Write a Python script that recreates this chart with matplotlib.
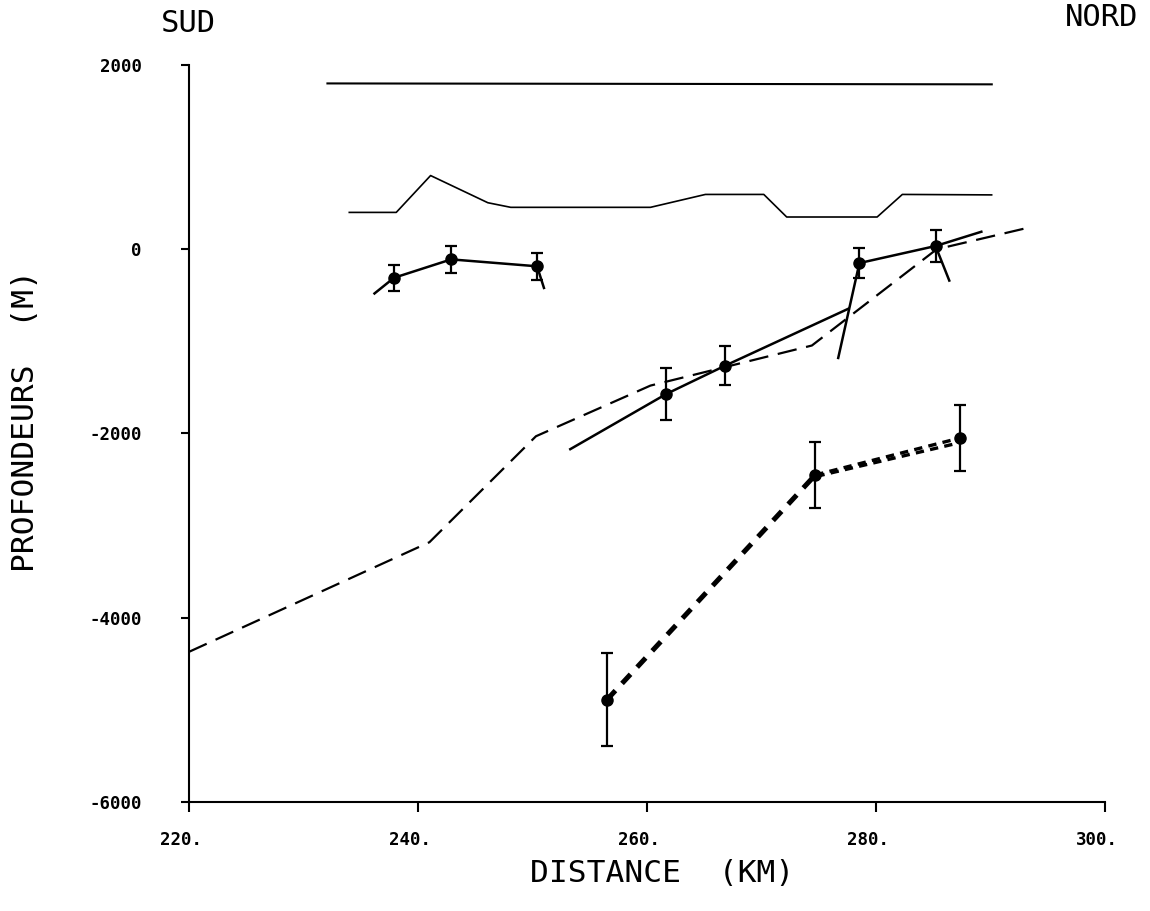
import matplotlib
matplotlib.use("Agg")
import matplotlib.pyplot as plt
from matplotlib.transforms import ScaledTranslation

# ---------------- data ----------------
# top reference line
top_x = [232.0, 290.2]
top_y = [1800, 1790]

# topography profile
topo_x = [234.0, 238.1, 241.1, 246.1, 248.1, 260.3, 265.1, 270.2, 272.2, 280.1, 282.3, 290.1]
topo_y = [400, 400, 800, 505, 455, 455, 595, 595, 350, 350, 595, 590]

# long-dashed interface
dash_x = [220.0, 241.0, 250.3, 260.3, 274.4, 285.3, 293.5]
dash_y = [-4370, -3180, -2030, -1480, -1045, 0, 240]

# solid segments
left_x = [236.2, 237.9, 242.9, 250.4, 251.0]
left_y = [-480, -310, -110, -185, -420]
mid1_x = [253.3, 261.7, 266.8, 277.6]
mid1_y = [-2170, -1570, -1265, -645]
mid2_x = [276.7, 278.55, 285.2, 289.2]
mid2_y = [-1180, -150, 35, 190]
tail_x = [285.2, 286.4]
tail_y = [35, -340]

# points with error bars (solid group)
pts_x = [237.9, 242.9, 250.4, 261.7, 266.8, 278.55, 285.2]
pts_y = [-310, -110, -185, -1570, -1265, -150, 35]
pts_err = [140, 145, 145, 280, 210, 165, 175]

# deep (bold dashed) group
deep_x = [256.5, 274.7, 287.3]
deep_y = [-4890, -2450, -2050]
deep_err = [505, 355, 355]
deep2_x = [274.8, 287.3]
deep2_y = [-2465, -2100]

xticks = [220, 240, 260, 280, 300]
xticklabels = ["220.", "240.", "260.", "280.", "300."]
yticks = [2000, 0, -2000, -4000, -6000]
yticklabels = ["2000", "0", "-2000", "-4000", "-6000"]

# ---------------- figure ----------------
plt.rcParams["lines.scale_dashes"] = False
W, H = 1150, 911
fig = plt.figure(figsize=(W / 100, H / 100), dpi=100)
L, R, T, B = 189, 1105, 65, 802
ax = fig.add_axes([L / W, 1 - B / H, (R - L) / W, (B - T) / H])
ax.set_xlim(220, 300)
ax.set_ylim(-6000, 2000)

k = "black"
ax.plot(top_x, top_y, color=k, lw=1.5, solid_capstyle="butt")
ax.plot(topo_x, topo_y, color=k, lw=1.2)
ax.plot(dash_x, dash_y, color=k, lw=1.6, dashes=(14, 7))

for xs, ys in [(left_x, left_y), (mid1_x, mid1_y), (mid2_x, mid2_y), (tail_x, tail_y)]:
    ax.plot(xs, ys, color=k, lw=1.8)

ax.errorbar(pts_x, pts_y, yerr=pts_err, fmt="o", color=k, ms=8,
            elinewidth=1.6, capsize=4.5, capthick=1.6)

ax.plot(deep_x[:2], deep_y[:2], color=k, lw=3.6, dashes=(9, 7))
ax.plot(deep_x[1:], deep_y[1:], color=k, lw=2.4, dashes=(6, 4.5))
ax.plot(deep2_x, deep2_y, color=k, lw=2.4, dashes=(6, 4.5))
ax.errorbar(deep_x, deep_y, yerr=deep_err, fmt="o", color=k, ms=8,
            elinewidth=1.6, capsize=4.5, capthick=1.6)

for s in ["top", "right"]:
    ax.spines[s].set_visible(False)
for s in ["left", "bottom"]:
    ax.spines[s].set_linewidth(1.5)

mono = "DejaVu Sans Mono"
ax.set_xticks(xticks)
ax.set_xticklabels(xticklabels, fontfamily=mono, fontweight="bold", fontsize=12.5)
ax.set_yticks(yticks)
ax.set_yticklabels(yticklabels, fontfamily=mono, fontweight="bold", fontsize=12.5)
ax.tick_params(axis="x", direction="out", length=7, width=1.5, pad=14)
ax.tick_params(axis="y", direction="out", length=6, width=1.5, pad=28)
off = ScaledTranslation(-8 / 100, 0, fig.dpi_scale_trans)
for lab in ax.get_xticklabels():
    lab.set_transform(lab.get_transform() + off)

fig.text(662 / W, 1 - 873 / H, "DISTANCE  (KM)", fontfamily=mono, fontsize=22.5,
         ha="center", va="center")
fig.text(26 / W, 1 - 421 / H, "PROFONDEURS  (M)", fontfamily=mono, fontsize=22.5,
         ha="center", va="center", rotation=90)
fig.text(188 / W, 1 - 24 / H, "SUD", fontfamily=mono, fontsize=22,
         ha="center", va="center")
fig.text(1102 / W, 1 - 17 / H, "NORD", fontfamily=mono, fontsize=22,
         ha="center", va="center")

fig.savefig("out.png", dpi=100)
